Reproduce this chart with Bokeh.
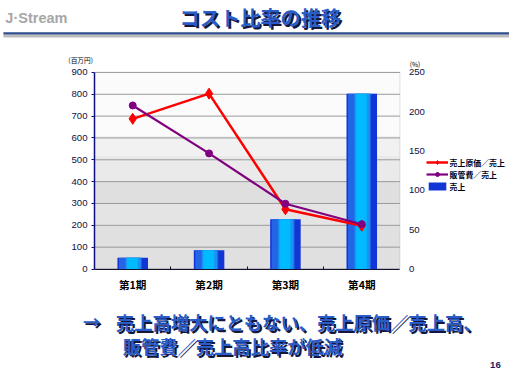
from bokeh.plotting import figure
from bokeh.models import (Range1d, LinearAxis, FixedTicker, Label, BoxAnnotation,
                          Legend, LegendItem)
from bokeh.embed import file_html
from bokeh.resources import INLINE

# ---- data ----
categories = ["第1期", "第2期", "第3期", "第4期"]
sales = [52, 86, 228, 802]            # 売上 (百万円)
cost_ratio = [191, 223, 76, 55]       # 売上原価/売上 (%)
sga_ratio = [208, 147, 83, 57]        # 販管費/売上 (%)
left_ticks = [0, 100, 200, 300, 400, 500, 600, 700, 800, 900]
right_ticks = [0, 50, 100, 150, 200, 250]
series_names = ["売上原価／売上", "販管費／売上", "売上"]

title_text = "コスト比率の推移"
logo_text = "J·Stream"
note_line1 = "売上高増大にともない、売上原価／売上高、"
note_line2 = "販管費／売上高比率が低減"
page_no = "16"

n = len(categories)
xs = [i + 0.5 for i in range(n)]
LMAX, RMAX = left_ticks[-1], right_ticks[-1]

JP = "Noto Sans CJK JP"
LAT = "Liberation Sans"

# slide geometry: reference slide 525x390 mapped onto a 509x374 figure
W, H = 509, 374
RW, RH = 525, 390
SX, SY = W / RW, H / RH
S = (SX + SY) / 2

def fx(X):
    return X * SX

def fy(Y):
    return Y * SY

def sx(X):
    return fx(X)

def sy(Y):
    return H - fy(Y)

def fs(px):
    return "%.1fpx" % (px * S)

PX0, PX1, PY0, PY1 = 97, 412, 75, 280      # chart area on the slide
kx = (fx(PX1) - fx(PX0)) / n
ky = (fy(PY1) - fy(PY0)) / LMAX
kr = (fy(PY1) - fy(PY0)) / RMAX
x_lo = -fx(PX0) / kx
x_hi = (W - fx(PX0)) / kx
y_hi = fy(PY1) / ky
y_lo = -(H - fy(PY1)) / ky
r_hi = fy(PY1) / kr
r_lo = -(H - fy(PY1)) / kr

p = figure(width=W, height=H, output_backend="svg", toolbar_location=None,
           x_range=Range1d(x_lo, x_hi), y_range=Range1d(y_lo, y_hi), min_border=0)
p.border_fill_color = "white"
p.background_fill_color = "white"
p.outline_line_color = None
p.xgrid.visible = False
p.ygrid.visible = False
p.extra_y_ranges = {"pct": Range1d(r_lo, r_hi)}

# plot area background bands
for b, t, c in [(610, 900, "#fbfbfb"), (520, 610, "#f1f1f1"), (400, 520, "#eaeaea"),
                (300, 400, "#dfdfdf"), (200, 300, "#e4e4e4"), (0, 200, "#e0e0e0")]:
    p.add_layout(BoxAnnotation(left=0, right=n, bottom=b, top=t, fill_color=c,
                               fill_alpha=1, line_color=None, level="underlay"))
p.add_layout(BoxAnnotation(left=0, right=n, bottom=0, top=LMAX, fill_alpha=0,
                           line_color="#9a9a9a", line_width=1, level="underlay"))

# grid lines
p.segment(x0=[0] * len(left_ticks), x1=[n] * len(left_ticks), y0=left_ticks, y1=left_ticks,
          line_color="#9a9a9a", line_width=1)

# axes at fixed locations
ya = p.yaxis[0]
ya.fixed_location = 0
ya.bounds = (0, LMAX)
ya.ticker = FixedTicker(ticks=left_ticks)
ya.axis_line_color = "#101080"
ya.axis_line_width = 1.5
ya.major_tick_line_color = "#101080"
ya.major_tick_in = 0
ya.major_tick_out = 3
ya.minor_tick_line_color = None
ya.major_label_standoff = 4
ya.major_label_text_font = LAT
ya.major_label_text_font_size = fs(10)
ya.major_label_text_color = "#101040"

xa = p.xaxis[0]
xa.fixed_location = 0
xa.bounds = (0, n)
xa.ticker = FixedTicker(ticks=xs, minor_ticks=list(range(1, n)))
xa.major_label_overrides = {x: c for x, c in zip(xs, categories)}
xa.axis_line_color = "#101030"
xa.axis_line_width = 1.2
xa.major_tick_line_color = None
xa.major_tick_out = 0
xa.major_tick_in = 0
xa.minor_tick_line_color = "#101030"
xa.minor_tick_in = 3
xa.minor_tick_out = 0
xa.major_label_standoff = 8
xa.major_label_text_font = JP
xa.major_label_text_font_style = "bold"
xa.major_label_text_font_size = fs(11)
xa.major_label_text_color = "#000000"

ra = LinearAxis(y_range_name="pct", ticker=FixedTicker(ticks=right_ticks),
                fixed_location=n, bounds=(0, RMAX))
ra.axis_line_color = None
ra.major_tick_line_color = None
ra.minor_tick_line_color = None
ra.major_tick_out = 0
ra.major_tick_in = 0
ra.major_label_standoff = 9
ra.major_label_text_font = LAT
ra.major_label_text_font_size = fs(10)
ra.major_label_text_color = "#101040"
p.add_layout(ra, "right")

# bars (layered for gradient look)
bar_base = p.vbar(x=xs, top=sales, width=0.40, fill_color="#1236d6", line_color=None)
p.vbar(x=[x - 0.03 for x in xs], top=sales, width=0.30, fill_color="#2464e6", line_color=None)
p.vbar(x=[x + 0.005 for x in xs], top=sales, width=0.20, fill_color="#1a94f2", line_color=None)
p.vbar(x=[x - 0.005 for x in xs], top=sales, width=0.14, fill_color="#00baff", line_color=None)

# lines
rl = p.line(xs, cost_ratio, y_range_name="pct", line_color="#ff0000", line_width=2.5)
rm = p.scatter(xs, cost_ratio, y_range_name="pct", marker="diamond", size=11,
               fill_color="#ff0000", line_color="#ff0000")
pl = p.line(xs, sga_ratio, y_range_name="pct", line_color="#800080", line_width=2.2)
pm = p.scatter(xs, sga_ratio, y_range_name="pct", marker="circle", size=7,
               fill_color="#800080", line_color="#800080")

legend = Legend(items=[LegendItem(label=series_names[0], renderers=[rl, rm]),
                       LegendItem(label=series_names[1], renderers=[pl, pm]),
                       LegendItem(label=series_names[2], renderers=[bar_base])],
                location=(sx(439), sy(200)), padding=0, margin=0, spacing=1,
                glyph_width=22, glyph_height=10, label_standoff=2,
                label_text_font=JP, label_text_font_size=fs(8.2),
                label_text_font_style="bold", label_text_color="#000022",
                label_height=10, border_line_color=None, background_fill_alpha=0)
p.add_layout(legend)

# header rule
p.add_layout(BoxAnnotation(left=sx(3), right=sx(525), top=sy(35.5), bottom=sy(38.5),
                           left_units="screen", right_units="screen", top_units="screen",
                           bottom_units="screen", fill_color="#bcbcbc", fill_alpha=1,
                           line_color=None))
p.add_layout(BoxAnnotation(left=sx(3), right=sx(525), top=sy(33), bottom=sy(35.5),
                           left_units="screen", right_units="screen", top_units="screen",
                           bottom_units="screen", fill_color="#2e4c8e", fill_alpha=1,
                           line_color=None))

def lab(text, X, Y, size, color, font=JP, style="bold", align="left"):
    p.add_layout(Label(x=sx(X), y=sy(Y), x_units="screen", y_units="screen", text=text,
                       text_font=font, text_font_size=fs(size), text_font_style=style,
                       text_color=color, text_align=align, text_baseline="middle"))

SH = "#16163c"
BL = "#2a5cc8"
lab(logo_text, 5, 18, 15, "#a6a6a6", font=LAT)
lab(title_text, 270, 20, 21, SH, align="center")
lab(title_text, 268, 18, 21, BL, align="center")

lab("(百万円)", 70, 62, 7, "#000000", style="normal")
lab("(%)", 422, 66, 7, "#000000", style="normal")

lab("→", 87, 337, 18, SH)
lab("→", 85, 335, 18, BL)
lab(note_line1, 121, 337, 19, SH)
lab(note_line1, 119, 335, 19, BL)
lab(note_line2, 128, 362, 19, SH)
lab(note_line2, 126, 360, 19, BL)
lab(page_no, 516, 380, 10, "#1a2060", font=LAT, align="right")

open("out.html", "w").write(file_html(p, INLINE))
